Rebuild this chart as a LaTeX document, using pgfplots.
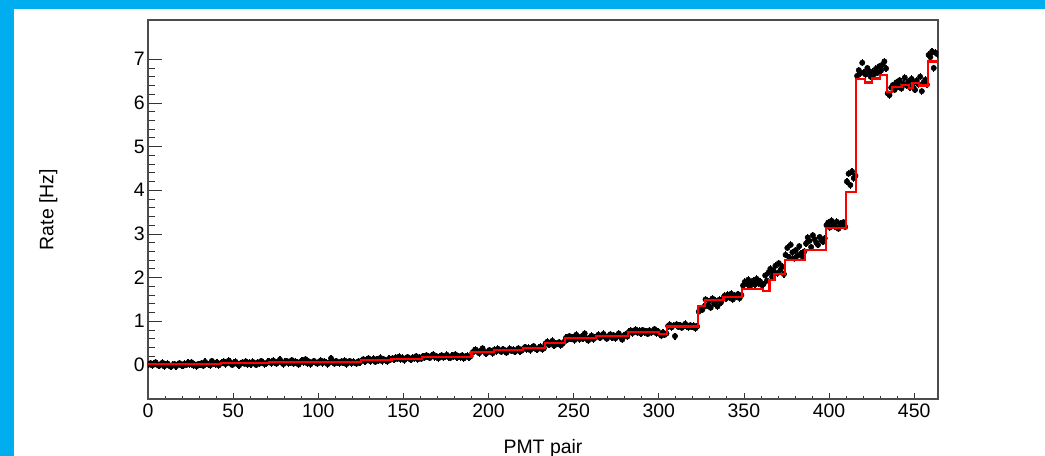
\documentclass[border=0pt]{standalone}
\usepackage{fontspec}
\setmainfont{Liberation Sans}
\usepackage{pgfplots}
\usepackage{pgfplotstable}
\pgfplotsset{compat=1.18}
\definecolor{frameblue}{RGB}{0,174,239}
\definecolor{hred}{RGB}{255,0,0}

\pgfplotstableread[row sep=\\, header=false]{
0.01\\0.04\\-0.01\\0.03\\0.06\\0.00\\-0.02\\0.02\\0.05\\-0.03\\
0.01\\0.03\\-0.02\\-0.04\\0.00\\0.02\\-0.03\\0.01\\0.04\\-0.01\\
-0.02\\0.03\\0.00\\0.05\\0.02\\0.06\\-0.01\\0.01\\-0.03\\0.02\\
0.00\\0.04\\-0.02\\0.07\\0.03\\0.01\\-0.01\\0.09\\0.04\\0.02\\
0.06\\-0.01\\0.03\\
0.05\\0.08\\0.02\\0.06\\0.10\\0.03\\0.00\\0.05\\0.07\\0.02\\
-0.01\\0.04\\0.06\\0.03\\0.08\\0.01\\0.05\\0.02\\0.07\\0.04\\
0.00\\0.06\\0.03\\0.09\\0.05\\0.02\\0.04\\0.07\\
0.07\\0.04\\0.10\\0.06\\0.03\\0.08\\0.12\\0.05\\0.02\\0.07\\
0.09\\0.04\\0.06\\0.11\\0.03\\0.08\\0.05\\0.01\\0.07\\0.10\\
0.06\\0.13\\0.04\\0.08\\0.02\\0.06\\0.09\\0.05\\0.03\\0.07\\
0.10\\0.04\\0.08\\0.06\\0.02\\0.05\\0.15\\0.07\\0.03\\0.09\\
0.06\\0.04\\0.08\\0.05\\0.10\\0.02\\0.06\\0.09\\0.04\\0.07\\
0.05\\0.03\\0.08\\0.06\\
0.10\\0.13\\0.08\\0.12\\0.15\\0.09\\0.11\\0.14\\0.07\\0.12\\
0.10\\0.16\\0.09\\0.13\\0.11\\0.08\\0.14\\0.12\\
0.15\\0.12\\0.17\\0.14\\0.19\\0.13\\0.16\\0.11\\0.15\\0.18\\
0.14\\0.12\\0.17\\0.15\\0.20\\0.13\\0.16\\0.14\\
0.20\\0.17\\0.22\\0.19\\0.16\\0.21\\0.24\\0.18\\0.20\\0.15\\
0.19\\0.22\\0.17\\0.20\\0.23\\0.18\\0.16\\0.21\\0.19\\0.24\\
0.17\\0.20\\0.18\\0.22\\0.15\\0.19\\0.21\\0.17\\0.20\\
0.28\\0.32\\0.35\\0.30\\0.27\\0.33\\0.38\\0.31\\0.26\\0.29\\0.34\\0.30\\0.27\\
0.35\\0.31\\0.37\\0.33\\0.30\\0.36\\0.34\\0.28\\0.33\\0.37\\0.32\\0.35\\0.30\\0.34\\0.38\\0.31\\0.33\\
0.37\\0.41\\0.36\\0.39\\0.34\\0.40\\0.43\\0.37\\0.35\\0.39\\0.42\\0.36\\0.38\\
0.49\\0.53\\0.46\\0.51\\0.55\\0.44\\0.50\\0.48\\0.52\\0.45\\0.49\\0.53\\
0.62\\0.58\\0.66\\0.60\\0.64\\0.57\\0.69\\0.63\\0.59\\0.65\\0.61\\0.72\\0.60\\0.56\\0.63\\0.67\\0.59\\0.62\\
0.65\\0.69\\0.62\\0.67\\0.71\\0.64\\0.60\\0.66\\0.70\\0.63\\0.68\\0.61\\0.66\\0.72\\0.64\\0.58\\0.67\\0.70\\0.65\\
0.76\\0.79\\0.73\\0.77\\0.81\\0.74\\0.78\\0.72\\0.80\\0.75\\0.77\\0.71\\0.79\\0.74\\0.76\\0.82\\0.73\\0.77\\
0.71\\0.67\\0.74\\0.69\\0.72\\
0.89\\0.92\\0.86\\0.90\\0.66\\0.93\\0.87\\0.91\\0.85\\0.89\\0.94\\0.88\\0.86\\0.91\\0.87\\0.90\\0.84\\0.88\\
1.22\\1.30\\1.26\\1.33\\
1.50\\1.35\\1.46\\1.31\\1.52\\1.40\\1.47\\1.34\\1.49\\1.43\\1.51\\
1.58\\1.52\\1.61\\1.55\\1.63\\1.50\\1.59\\1.56\\1.62\\1.53\\1.60\\
1.82\\1.90\\1.86\\1.95\\1.79\\1.88\\1.93\\1.84\\1.97\\1.87\\1.91\\1.83\\
1.85\\2.05\\1.93\\2.12\\2.20\\2.02\\2.15\\2.27\\2.10\\2.33\\2.18\\2.25\\2.08\\
2.52\\2.68\\2.47\\2.75\\2.58\\2.44\\2.63\\2.50\\2.72\\2.55\\2.48\\2.60\\
2.78\\2.92\\2.84\\2.70\\2.97\\2.88\\2.80\\2.75\\2.93\\2.86\\2.82\\2.90\\
3.20\\3.26\\3.15\\3.30\\3.22\\3.18\\3.28\\3.12\\3.24\\3.19\\3.27\\3.16\\
4.20\\4.38\\4.12\\4.43\\4.28\\4.33\\
6.62\\6.75\\6.68\\6.92\\6.70\\6.65\\6.80\\6.73\\6.60\\6.71\\6.66\\6.78\\6.69\\6.84\\6.74\\6.88\\6.95\\6.79\\
6.22\\6.18\\6.35\\6.41\\6.30\\6.47\\6.38\\6.52\\6.33\\6.44\\6.58\\6.40\\6.49\\6.36\\6.55\\6.45\\6.30\\6.51\\6.43\\6.60\\6.27\\6.47\\6.53\\6.42\\
7.10\\7.05\\7.18\\6.80\\7.15\\7.12\\
}\datapts

\pgfplotstableread{
x y
0 0.02
43 0.045
71 0.065
125 0.11
143 0.145
161 0.19
190 0.29
203 0.34
220 0.38
233 0.51
245 0.61
263 0.66
282 0.75
300 0.70
305 0.88
323 1.35
327 1.49
338 1.55
349 1.73
361 1.70
365 1.95
368 2.08
374 2.40
386 2.63
398 3.13
410 3.97
416 6.54
421 6.47
425 6.56
430 6.64
434 6.26
437 6.36
443 6.42
447 6.35
449 6.45
453 6.40
458 6.95
464 6.95
}\steps

\begin{document}
\begin{tikzpicture}[x=1pt,y=1pt]
\useasboundingbox (0,0) rectangle (783.75,342);
\fill[white] (0,0) rectangle (783.75,342);
\fill[frameblue] (0,0) rectangle (10.5,342);
\fill[frameblue] (0,335.25) rectangle (783.75,342);
\begin{axis}[
  at={(111pt,42.75pt)}, anchor=south west,
  scale only axis, width=592.5pt, height=284.25pt,
  xmin=0, xmax=464, ymin=-0.78, ymax=7.9,
  xtick={0,50,...,450}, ytick={0,1,...,7},
  minor x tick num=4, minor y tick num=4,
  tick align=inside, xtick pos=bottom, ytick pos=left,
  xtick style={/pgfplots/major tick length=4.7pt, /pgfplots/minor tick length=2.3pt, black!80, line width=0.6pt},
  ytick style={/pgfplots/major tick length=10.5pt, /pgfplots/minor tick length=5.25pt, black!80, line width=0.6pt},
  axis line style={black!70, line width=0.8pt},
  /pgf/number format/assume math mode=true,
  tick label style={font=\fontsize{14.6pt}{17pt}\selectfont},
  yticklabel style={xshift=1pt},
  label style={font=\fontsize{14.6pt}{17pt}\selectfont},
  xlabel={PMT pair}, ylabel={Rate [Hz]},
  xlabel style={at={(axis description cs:0.5,-0.1434)}, anchor=base},
  ylabel style={at={(axis description cs:-0.1198,0.5)}, anchor=base, rotate=0},
  clip=true, clip marker paths=true,
]
\addplot[only marks, mark=*, mark size=2pt, black,
  error bars/.cd, y dir=both, y fixed=0.08, error mark=none,
  error bar style={line width=0.9pt, black}]
  table[x expr=\coordindex+0.5, y index=0]{\datapts};
\addplot[const plot, hred, line width=1.6pt] table[x=x, y=y]{\steps};
\end{axis}
\end{tikzpicture}
\end{document}
